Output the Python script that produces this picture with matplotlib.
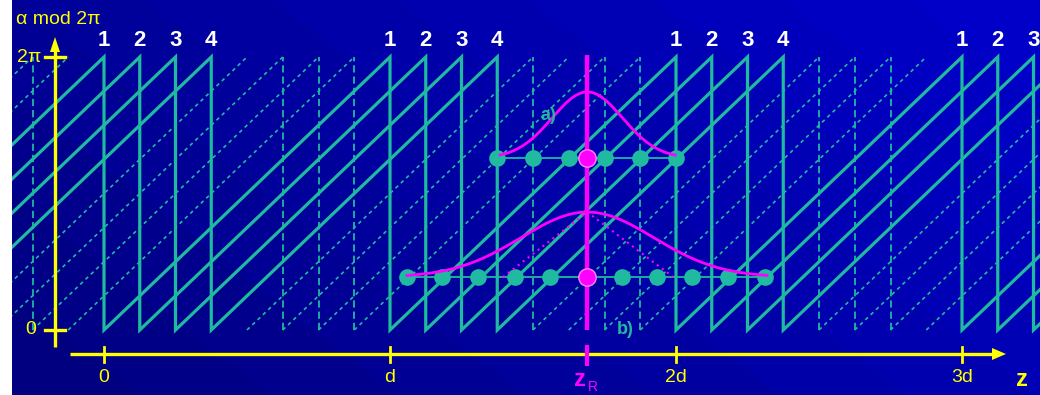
import numpy as np
import matplotlib
matplotlib.use("Agg")
import matplotlib.pyplot as plt

# ---------------- data ----------------
solid_phase_offsets = [0.0, 0.125, 0.25, 0.375]          # in units of d
dashed_phase_offsets = [0.5, 0.625, 0.75, 0.875]
dashed_drop_positions = [-0.25, 0.625, 0.75, 0.875, 1.5, 1.75, 1.875, 2.5, 2.625, 2.75]
drop_labels = ['1', '2', '3', '4']
periods = [0, 1, 2, 3]
x_tick_positions = [0, 1, 2, 3]
x_tick_labels = ['0', 'd', '2d', '3d']
y_tick_positions = [0, 1]
y_tick_labels = ['0', '2π']
z_R = 1.69

# curve a) (narrow)
a_sigma, a_amp, a_base, a_range = 0.123, 0.242, 0.63, (1.385, 1.997)
a_dots = [1.375, 1.5, 1.625, 1.75, 1.875, 2.0]
# curve b) (wide)
b_sigma, b_amp, b_base, b_range = 0.232, 0.238, 0.194, (1.06, 2.318)
b_dots = [1.059, 1.182, 1.308, 1.437, 1.559, 1.811, 1.934, 2.056, 2.182, 2.311]
b_tri = [1.395, 1.99]

TEAL = '#1FBAA0'
MAG = '#FF00FF'
YEL = '#FFFF00'

W, H = 1040, 395
fig = plt.figure(figsize=(W / 100, H / 100), dpi=100, facecolor='white')
L = 12
ax = fig.add_axes([L / W, 0, (W - L) / W, 1])
ax.axis('off')

def X(px):
    return (px - 104) / 286.0

def Y(py):
    return (330 - py) / 273.0

x0, x1 = X(L), X(W)
y0, y1 = Y(H), Y(0)
ax.set_xlim(x0, x1)
ax.set_ylim(y0, y1)

# background gradient (bottom-left dark -> top-right bright), banded
xs = np.arange(L, W)
ys = np.arange(0, H)
XX, YY = np.meshgrid(xs, ys)
g = 0.78 * XX - YY
g = (g - g.min()) / (g.max() - g.min())
g = np.floor(g * 12) / 12
blue = (0x80 + g * (0xD0 - 0x80)) / 255.0
img = np.zeros((H, W - L, 3))
img[..., 2] = blue
ax.imshow(img, extent=(x0, x1, y0, y1), aspect='auto', origin='upper', zorder=0)

# dashed sawtooth ramps
for k in dashed_phase_offsets:
    for n in range(-2, 5):
        ax.plot([k + n - 1, k + n], [0, 1], color=TEAL, lw=1.2,
                ls=(0, (2.2, 2.2)), zorder=1)
for xp in dashed_drop_positions:
    ax.plot([xp, xp], [0, 1], color=TEAL, lw=1.3, ls=(0, (4, 2.2)), zorder=1)

# solid sawtooth
for k in solid_phase_offsets:
    px, py = [], []
    for n in range(-2, 5):
        px += [k + n - 1, k + n, k + n]
        py += [0, 1, 0]
    ax.plot(px, py, color=TEAL, lw=2.3, zorder=2, solid_joinstyle='miter')

fn = ['Liberation Sans Narrow', 'Liberation Sans', 'DejaVu Sans']

# drop labels
for n in periods:
    for k, lab in zip(solid_phase_offsets, drop_labels):
        xp = n + k
        if x0 < xp < x1 + 0.01:
            ax.text(xp, Y(40), lab, color='white', fontsize=16, fontweight='bold',
                    ha='center', va='center', zorder=6, family=fn)

# magenta vertical at z_R
ax.plot([z_R, z_R], [Y(330), Y(55)], color=MAG, lw=3.2, zorder=4, solid_capstyle='butt')

# curve a)
za = np.linspace(*a_range, 200)
ax.plot([a_dots[0], a_dots[-1]], [a_base, a_base], color=TEAL, lw=1.3, zorder=3)
ax.plot(a_dots, [a_base] * len(a_dots), 'o', color=TEAL, ms=12, mec='none', zorder=3)
ax.plot(za, a_base + a_amp * np.exp(-(za - z_R) ** 2 / (2 * a_sigma ** 2)),
        color=MAG, lw=2.0, zorder=5)
ax.plot([z_R], [a_base], 'o', color=MAG, ms=12.5, mec='#FF80FF', mew=1, zorder=6)
ax.text(X(548), Y(116), 'a)', color=TEAL, fontsize=13, fontweight='bold',
        ha='center', va='center', zorder=6, family=fn)

# curve b)
zb = np.linspace(*b_range, 300)
b_peak = b_base + b_amp
ax.plot([b_dots[0], b_dots[-1]], [b_base, b_base], color=TEAL, lw=1.3, zorder=3)
ax.plot(b_dots, [b_base] * len(b_dots), 'o', color=TEAL, ms=12, mec='none', zorder=3)
ax.plot([b_tri[0], z_R, b_tri[1]], [b_base, b_peak, b_base], color=MAG, lw=1.5,
        ls=(0, (1, 2)), zorder=4)
ax.plot(zb, b_base + b_amp * np.exp(-(zb - z_R) ** 2 / (2 * b_sigma ** 2)),
        color=MAG, lw=2.0, zorder=5)
ax.plot([z_R], [b_base], 'o', color=MAG, ms=12.5, mec='#FF80FF', mew=1, zorder=6)
ax.text(X(625), Y(330), 'b)', color=TEAL, fontsize=13, fontweight='bold',
        ha='center', va='center', zorder=6, family=fn)

# ---------------- yellow axes ----------------
yax = X(55)
hw = 5 / 286.0
ax.plot([yax, yax], [Y(347), Y(50)], color=YEL, lw=2.4, zorder=7, solid_capstyle='butt')
ax.fill([yax - hw, yax, yax + hw], [Y(52), Y(37), Y(52)], color=YEL, zorder=7, lw=0)
for v in y_tick_positions:
    ax.plot([X(45), X(65)], [v, v], color=YEL, lw=2.4, zorder=7)
ax.text(X(41), 1, y_tick_labels[1], color=YEL, fontsize=14, ha='right', va='center',
        zorder=7, family=fn)
ax.text(X(36), 0, y_tick_labels[0], color=YEL, fontsize=14, ha='right', va='center',
        zorder=7, family=fn)
ax.text(X(16), Y(20), 'α mod 2π', color=YEL, fontsize=14, ha='left', va='center',
        zorder=7, family=fn)

xay = Y(354)
ax.plot([X(70), X(995)], [xay, xay], color=YEL, lw=2.4, zorder=7, solid_capstyle='butt')
ax.fill([X(992), X(1006), X(992)], [Y(348), xay, Y(360)], color=YEL, zorder=7, lw=0)
for xp, lab in zip(x_tick_positions, x_tick_labels):
    ax.plot([xp, xp], [Y(347), Y(362)], color=YEL, lw=2.0, zorder=7)
    ax.text(xp, Y(378), lab, color=YEL, fontsize=14, ha='center', va='center',
            zorder=7, family=fn)
ax.plot([z_R, z_R], [Y(347), Y(364)], color=MAG, lw=3.0, zorder=8)
ax.text(X(580), Y(380), 'z', color=MAG, fontsize=17, fontweight='bold', ha='center',
        va='center', zorder=8, family=fn)
ax.text(X(593), Y(387), 'R', color=MAG, fontsize=10, ha='center', va='center',
        zorder=8, family=fn)
ax.text(X(1022), Y(380), 'z', color=YEL, fontsize=17, fontweight='bold', ha='center',
        va='center', zorder=8, family=fn)

fig.savefig('out.png', dpi=100, facecolor='white')
